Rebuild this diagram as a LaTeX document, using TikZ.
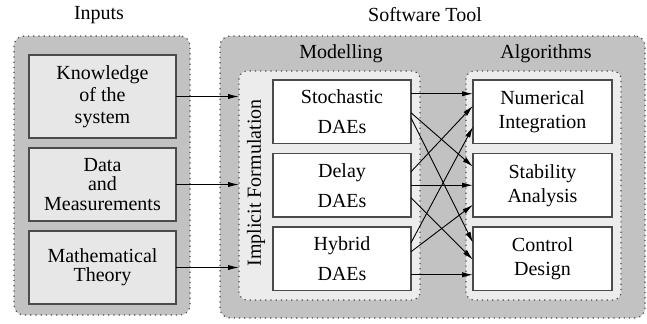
\documentclass[tikz,border=0pt]{standalone}
\usepackage{fontspec}
\setmainfont{Liberation Serif}
\usetikzlibrary{positioning, arrows.meta}

\definecolor{groupgray}{RGB}{194,194,194}
\definecolor{innergray}{RGB}{236,236,236}
\definecolor{inputgray}{RGB}{231,231,231}
\definecolor{edgegray}{RGB}{75,75,75}

\begin{document}
\begin{tikzpicture}[>={Latex[length=5.5pt, width=2.6pt]}, x=0.5pt, y=-0.5pt]
            \tikzset{
                group/.style={
                        draw=edgegray, fill=groupgray, dotted, line width=0.6pt,
                        rounded corners=5pt, anchor=north west, inner sep=0pt, outer sep=0pt
                    },
                subgroup/.style={
                        group, fill=innergray, rounded corners=4pt
                    },
                block/.style={
                        draw=edgegray, fill=white, line width=0.6pt, align=center,
                        anchor=north west, inner sep=0pt, outer sep=0pt
                    },
                inblock/.style={
                        block, fill=inputgray, minimum width=73.5pt
                    },
                title/.style={
                        inner sep=0pt
                    }
            }
            \useasboundingbox (0,0) rectangle (647,323);

            % Groups
            \node[group, minimum width=88pt, minimum height=139.5pt] (inputs) at (14,36) {};
            \node[group, minimum width=212.5pt, minimum height=141pt] (tool) at (220,36) {};
            \node[subgroup, minimum width=90.5pt, minimum height=114.5pt] (model) at (239,71) {};
            \node[subgroup, minimum width=77.5pt, minimum height=114.5pt] (algo) at (466,71) {};

            % Titles
            \node[title] (inputs-title) at (99,15) {Inputs};
            \node[title] (tool-title) at (425,15) {Software Tool};
            \node[title] (model-title) at (341,54) {Modelling};
            \node[title] (algo-title) at (546,54) {Algorithms};
            \node[title, rotate=90] (implicit) at (256,183) {Implicit Formulation};

            % Inputs
            \node[inblock, minimum height=41.5pt] (kn) at (29,55) {Knowledge\\[-1pt]of the\\[-1pt]system};
            \node[inblock, minimum height=36.5pt, below=5pt of kn] (da) {Data\\[-2.2pt]and\\[-2.2pt]Measurements};
            \node[inblock, minimum height=36.5pt, below=5pt of da] (ma) {Mathematical\\[-2.3pt]Theory};

            % Models
            \node[block, minimum width=69pt, minimum height=31.75pt] (sto) at (273,80) {Stochastic\\[3pt]DAEs};
            \node[block, minimum width=69pt, minimum height=31.75pt, below=5pt of sto] (del) {Delay\\[3pt]DAEs};
            \node[block, minimum width=69pt, minimum height=31.75pt, below=5pt of del] (hyb) {Hybrid\\[3pt]DAEs};

            % Algorithms
            \node[block, minimum width=69.5pt, minimum height=31.75pt] (num) at (473,80) {Numerical\\Integration};
            \node[block, minimum width=69.5pt, minimum height=31.75pt, below=5pt of num] (sta) {Stability\\Analysis};
            \node[block, minimum width=69.5pt, minimum height=31.75pt, below=5pt of sta] (con) {Control\\Design};

            % Inputs to modelling
            \draw[->, line width=0.5pt] (kn.east) -- (kn.east -| model.west);
            \draw[->, line width=0.5pt] (da.east) -- (da.east -| model.west);
            \draw[->, line width=0.5pt] (ma.east) -- (ma.east -| model.west);

            % Models to algorithms
            \draw[->, line width=0.45pt] ([yshift=9pt]sto.east) -- ([yshift=9pt]num.west);
            \draw[->, line width=0.45pt] ([yshift=-0.5pt]sto.east) -- ([yshift=9.25pt]sta.west);
            \draw[->, line width=0.45pt] ([yshift=-3pt]sto.east) -- ([yshift=8pt]con.west);

            \draw[->, line width=0.45pt] ([yshift=6.75pt]del.east) -- ([yshift=3pt]num.west);
            \draw[->, line width=0.45pt] (del.east) -- (sta.west);
            \draw[->, line width=0.45pt] ([yshift=-6.25pt]del.east) -- ([yshift=-0.5pt]con.west);

            \draw[->, line width=0.45pt] ([yshift=8pt]hyb.east) -- ([yshift=-7.5pt]num.west);
            \draw[->, line width=0.45pt] ([yshift=3.5pt]hyb.east) -- ([yshift=-9.75pt]sta.west);
            \draw[->, line width=0.45pt] ([yshift=-8pt]hyb.east) -- ([yshift=-8pt]con.west);
        \end{tikzpicture}
\end{document}
